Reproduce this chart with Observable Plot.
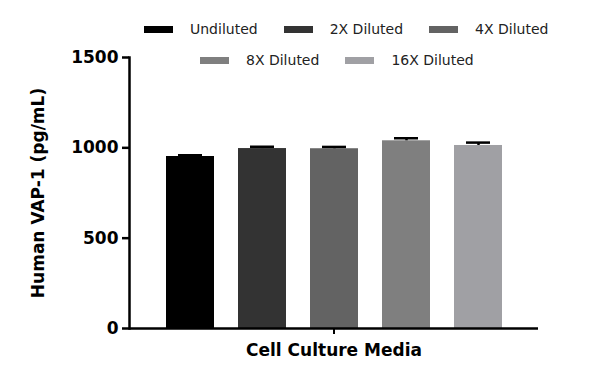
<!DOCTYPE html>
<html>
<head>
<meta charset="utf-8">
<script src="https://cdn.jsdelivr.net/npm/d3@7"></script>
<script src="https://cdn.jsdelivr.net/npm/@observablehq/plot@0.6"></script>
<style>
  html, body { margin: 0; padding: 0; background: #fff; }
  #wrap { position: relative; width: 600px; height: 386px; }
  #wrap svg { position: absolute; left: 0; top: 0; }
  .legend-row { position: absolute; display: flex; align-items: center; font-family: "DejaVu Sans", sans-serif; font-size: 14px; color: #222; white-space: nowrap; }
  .legend-item { display: flex; align-items: center; margin-right: 26px; }
  .sw { width: 29px; height: 7px; margin-right: 17px; }
</style>
</head>
<body>
<div id="wrap"></div>
<script>
const group = "Cell Culture Media";
const series = ["Undiluted", "2X Diluted", "4X Diluted", "8X Diluted", "16X Diluted"];
const means = [952, 996, 995, 1039, 1013];
const sems = [7, 10, 10, 14, 16];
const colors = ["#000000", "#333333", "#636363", "#7f7f7f", "#a0a0a4"];
const yTicks = [0, 500, 1000, 1500];
const yLabel = "Human VAP-1 (pg/mL)";
const legendRows = [[0, 1, 2], [3, 4]];

const data = series.map((s, i) => ({group, series: s, mean: means[i], sem: sems[i]}));

const chart = Plot.plot({
  width: 600,
  height: 386,
  marginLeft: 129,
  marginRight: 62,
  marginTop: 57,
  marginBottom: 58,
  style: {fontFamily: "DejaVu Sans, sans-serif", fontSize: "16px", color: "#000", background: "transparent"},
  fx: {domain: [group], padding: 0},
  x: {domain: series, paddingInner: 0.34, paddingOuter: 0.49, axis: null},
  y: {domain: [0, 1500]},
  color: {domain: series, range: colors},
  marks: [
    Plot.barY(data, {fx: "group", x: "series", y: "mean", fill: "series"}),
    Plot.ruleX(data, {fx: "group", x: "series", y1: "mean", y2: d => d.mean + d.sem, stroke: "#000", strokeWidth: 2.5}),
    Plot.tickY(data, {fx: "group", x: "series", y: d => d.mean + d.sem, stroke: "#000", strokeWidth: 2.5, insetLeft: 12, insetRight: 12}),
    Plot.ruleY([0], {stroke: "#000", strokeWidth: 2.5}),
    Plot.frame({anchor: "left", stroke: "#000", strokeWidth: 2.5}),
    Plot.axisY({ticks: yTicks, tickFormat: d3.format("d"), tickSize: 7, tickPadding: 4, strokeWidth: 2.5, fontWeight: "bold", fontSize: 17,
      label: yLabel, labelAnchor: "center", labelOffset: 98, labelArrow: "none"}),
    Plot.axisFx({anchor: "bottom", tickSize: 6, tickPadding: 9, strokeWidth: 2, fontWeight: "bold", fontSize: 17, label: null})
  ]
});

const wrap = document.getElementById("wrap");
wrap.appendChild(chart);
d3.select(chart).selectAll('g[aria-label="y-axis label"] text').attr("font-weight", "bold").attr("font-size", 17);

const rowPos = [{left: 144, top: 30}, {left: 200, top: 61}];
legendRows.forEach((row, r) => {
  const div = document.createElement("div");
  div.className = "legend-row";
  div.style.left = rowPos[r].left + "px";
  div.style.top = (rowPos[r].top - 9) + "px";
  row.forEach(i => {
    const item = document.createElement("div");
    item.className = "legend-item";
    const sw = document.createElement("div");
    sw.className = "sw";
    sw.style.background = colors[i];
    const t = document.createElement("span");
    t.textContent = series[i];
    item.appendChild(sw);
    item.appendChild(t);
    div.appendChild(item);
  });
  wrap.appendChild(div);
});
</script>
</body>
</html>
